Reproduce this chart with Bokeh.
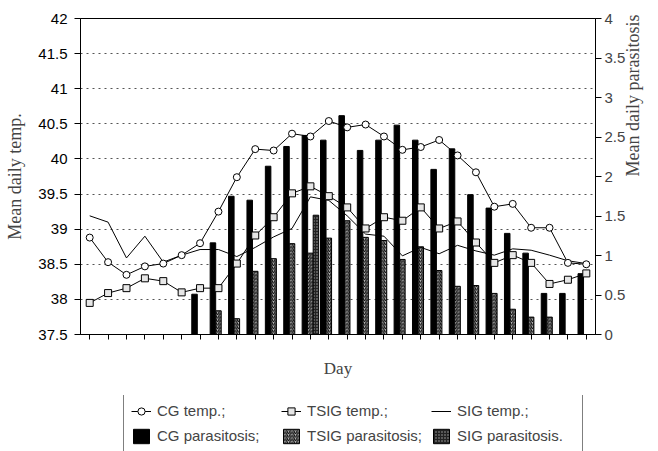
import math
from bokeh.plotting import figure
from bokeh.layouts import column
from bokeh.models import (Range1d, LinearAxis, FixedTicker, NumeralTickFormatter,
                          Legend, LegendItem, ColumnDataSource)
from bokeh.transform import dodge
from bokeh.embed import file_html
from bokeh.resources import INLINE

days = [1, 2, 3, 4, 5, 6, 7, 8, 9, 10, 11, 12, 13, 14, 15, 16, 17, 18, 19, 20,
        21, 22, 23, 24, 25, 26, 27, 28]
cg_temp = [38.88, 38.53, 38.35, 38.47, 38.51, 38.63, 38.80, 39.25, 39.74, 40.14,
           40.12, 40.36, 40.32, 40.54, 40.45, 40.49, 40.32, 40.13, 40.17, 40.27,
           40.05, 39.81, 39.32, 39.36, 39.02, 39.02, 38.52, 38.50]
tsig_temp = [37.95, 38.09, 38.16, 38.30, 38.26, 38.10, 38.16, 38.16, 38.51, 38.91,
             39.17, 39.51, 39.61, 39.47, 39.31, 39.01, 39.17, 39.12, 39.31, 39.01,
             39.11, 38.81, 38.52, 38.63, 38.52, 38.22, 38.28, 38.37]
sig_temp = [39.19, 39.10, 38.59, 38.90, 38.53, 38.63, 38.71, 38.71, 38.61, 38.74,
            38.89, 39.01, 39.46, 39.41, 39.19, 38.93, 38.90, 38.62, 38.74, 38.65,
            38.77, 38.69, 38.63, 38.72, 38.70, 38.63, 38.55, 38.51]
cg_par = [0, 0, 0, 0, 0, 0, 0.51, 1.16, 1.75, 1.70, 2.13, 2.38, 2.52, 2.46, 2.77,
          2.33, 2.46, 2.65, 2.46, 2.09, 2.35, 1.77, 1.60, 1.28, 1.03, 0.52, 0.52, 0.77]
tsig_par = [0, 0, 0, 0, 0, 0, 0, 0.30, 0.20, 0.80, 0.96, 1.15, 1.03, 1.22, 1.44,
            1.23, 1.19, 0.95, 1.11, 0.81, 0.61, 0.62, 0.52, 0.32, 0.22, 0.22, 0, 0]
sig_par = [0, 0, 0, 0, 0, 0, 0, 0, 0, 0, 0, 0, 1.51, 0, 0, 0, 0, 0, 0, 0, 0, 0,
           0, 0, 0, 0, 0, 0]

temp_ticks = [37.5, 38, 38.5, 39, 39.5, 40, 40.5, 41, 41.5, 42]
par_ticks = [0, 0.5, 1, 1.5, 2, 2.5, 3, 3.5, 4]

legend_labels = ["CG temp.;", "TSIG temp.;", "SIG temp.;",
                 "CG parasitosis;", "TSIG parasitosis;", "SIG parasitosis."]

SANS = "Liberation Sans"
SERIF = "Liberation Serif"
W = 658
BL, BR = 80, 63

p = figure(width=W, height=395, output_backend="svg", toolbar_location=None,
           x_range=Range1d(0.5, 28.5), y_range=Range1d(37.5, 42),
           min_border_left=BL, min_border_right=BR, min_border_top=18,
           min_border_bottom=61)
p.extra_y_ranges = {"par": Range1d(0, 4)}
p.outline_line_color = "black"
p.outline_line_width = 1
p.xgrid.visible = False
p.ygrid.grid_line_color = "#555555"
p.ygrid.grid_line_dash = "2 4"
p.ygrid.grid_line_width = 1

# left axis
ya = p.yaxis[0]
ya.ticker = FixedTicker(ticks=temp_ticks)
ya.formatter = NumeralTickFormatter(format="0.[0]")
ya.minor_tick_line_color = None
ya.major_tick_in = 0
ya.major_tick_out = 6
ya.major_label_standoff = 7
ya.major_label_text_font = SANS
ya.major_label_text_font_size = "15px"
ya.major_label_text_color = "black"
ya.axis_line_color = "black"
ya.axis_label = "Mean daily temp."
ya.axis_label_text_font = SERIF
ya.axis_label_text_font_size = "18px"
ya.axis_label_text_font_style = "normal"
ya.axis_label_standoff = 10

# right axis
ra = LinearAxis(y_range_name="par", ticker=FixedTicker(ticks=par_ticks),
                formatter=NumeralTickFormatter(format="0.[0]"))
ra.minor_tick_line_color = None
ra.major_tick_in = 0
ra.major_tick_out = 6
ra.major_label_standoff = 3
ra.major_label_text_font = SANS
ra.major_label_text_font_size = "15px"
ra.axis_line_color = "black"
ra.axis_label = "Mean daily parasitosis"
ra.axis_label_text_font = SERIF
ra.axis_label_text_font_size = "18px"
ra.axis_label_text_font_style = "normal"
ra.axis_label_text_line_height = 0.8
ra.axis_label_standoff = 5
if "axis_label_orientation" in ra.properties():
    ra.axis_label_orientation = math.pi / 2
p.add_layout(ra, "right")

# x axis
xa = p.xaxis[0]
xa.ticker = FixedTicker(ticks=days)
xa.minor_tick_line_color = None
xa.major_tick_in = 0
xa.major_tick_out = 5
xa.major_label_text_font_size = "10px"
xa.major_label_text_color = None
xa.major_label_standoff = 0
xa.axis_label = "Day"
xa.axis_label_text_font = SERIF
xa.axis_label_text_font_size = "17px"
xa.axis_label_text_font_style = "normal"
xa.axis_label_standoff = 19

src = ColumnDataSource(dict(day=days, cg_par=cg_par, tsig_par=tsig_par, sig_par=sig_par))
bw = 0.3
cg_bar = dict(fill_color="black", line_color="black")
ts_bar = dict(fill_color="#bbbbbb", line_color="black", hatch_pattern="/",
              hatch_color="black", hatch_scale=3.5, hatch_weight=1)
sg_bar = dict(fill_color="#222222", line_color="black", hatch_pattern=".",
              hatch_color="#aaaaaa", hatch_scale=3, hatch_weight=1)
p.vbar(x=dodge("day", -0.3), top="cg_par", width=bw, source=src,
       y_range_name="par", **cg_bar)
p.vbar(x=dodge("day", 0.0), top="tsig_par", width=bw, source=src,
       y_range_name="par", **ts_bar)
p.vbar(x=dodge("day", 0.3), top="sig_par", width=bw, source=src,
       y_range_name="par", **sg_bar)

line_style = dict(line_color="black", line_width=1)
sq_style = dict(marker="square", size=7, fill_color="#e6e6e6", line_color="black", line_width=1)
ci_style = dict(marker="circle", size=7, fill_color="white", line_color="black", line_width=1)

p.line(days, sig_temp, **line_style)
p.line(days, tsig_temp, **line_style)
p.scatter(days, tsig_temp, **sq_style)
p.line(days, cg_temp, **line_style)
p.scatter(days, cg_temp, **ci_style)

# legend strip below the chart (its own figure; sample glyphs sit outside its ranges)
q = figure(width=W, height=56, output_backend="svg", toolbar_location=None,
           x_range=Range1d(0, 1), y_range=Range1d(0, 1), title=None,
           x_axis_location=None, y_axis_location=None,
           min_border_left=BL, min_border_right=BR, min_border_top=0, min_border_bottom=0)
q.outline_line_color = None
q.grid.visible = False
off = [-10]
l_cg = q.line(x=off, y=off, **line_style)
m_cg = q.scatter(x=off, y=off, **ci_style)
l_ts = q.line(x=off, y=off, **line_style)
m_ts = q.scatter(x=off, y=off, **sq_style)
l_sg = q.line(x=off, y=off, **line_style)
b_cg = q.vbar(x=off, top=off, width=0.1, **cg_bar)
b_ts = q.vbar(x=off, top=off, width=0.1, **ts_bar)
b_sg = q.vbar(x=off, top=off, width=0.1, **sg_bar)

items = [
    LegendItem(label=legend_labels[0], renderers=[l_cg, m_cg]),
    LegendItem(label=legend_labels[1], renderers=[l_ts, m_ts]),
    LegendItem(label=legend_labels[2], renderers=[l_sg]),
    LegendItem(label=legend_labels[3], renderers=[b_cg]),
    LegendItem(label=legend_labels[4], renderers=[b_ts]),
    LegendItem(label=legend_labels[5], renderers=[b_sg]),
]
leg = Legend(items=items, location=(43, -2), orientation="horizontal", ncols=3,
             border_line_color="black", border_line_width=1,
             background_fill_color="white", background_fill_alpha=1,
             label_text_font=SANS, label_text_font_size="15px",
             glyph_width=20, glyph_height=18, label_height=19, label_width=118,
             label_standoff=6, spacing=6, padding=7, margin=0)
q.add_layout(leg)

open("out.html", "w").write(file_html(column(p, q), INLINE))
